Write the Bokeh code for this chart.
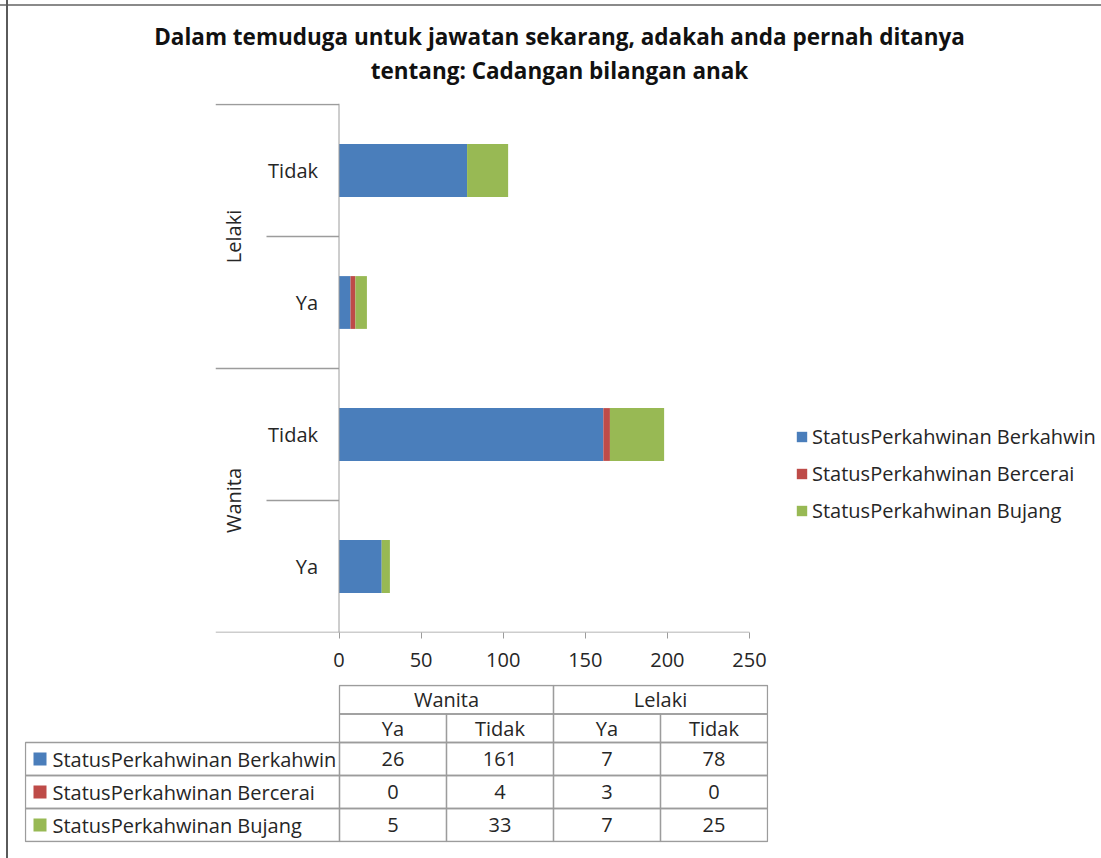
import math
from bokeh.plotting import figure
from bokeh.models import ColumnDataSource, Range1d, Span, Legend, LegendItem, Title, FixedTicker
from bokeh.embed import file_html
from bokeh.resources import INLINE
from bokeh.core.properties import value

# ---------------- data ----------------
title_lines = ["Dalam temuduga untuk jawatan sekarang, adakah anda pernah ditanya",
               "tentang: Cadangan bilangan anak"]
groups = ["Wanita", "Wanita", "Lelaki", "Lelaki"]          # bottom -> top (table order)
answers = ["Ya", "Tidak", "Ya", "Tidak"]
series_names = ["StatusPerkahwinan Berkahwin", "StatusPerkahwinan Bercerai", "StatusPerkahwinan Bujang"]
berkahwin = [26, 161, 7, 78]
bercerai = [0, 4, 3, 0]
bujang = [5, 33, 7, 25]
x_ticks = [0, 50, 100, 150, 200, 250]

# ---------------- style ----------------
colors = ["#4A7EBB", "#BE4B48", "#98B954"]
FONT = "Open Sans"
TXT = "#262626"
GRID = "#9c9c9c"
FS = "20px"
W = 1101
FRAME_CSS = {"background-image":
             "linear-gradient(to right, transparent 6px, #5a5a5a 6px, #5a5a5a 8px, transparent 8px)"}

n = len(answers)
ns = len(series_names)
keys = ["Berkahwin", "Bercerai", "Bujang"]
vals = [berkahwin, bercerai, bujang]


def bare(fig):
    fig.grid.visible = False
    fig.outline_line_color = None
    fig.background_fill_color = None
    fig.border_fill_color = None


# ---------------- title ----------------
tf = figure(width=W, height=103, x_axis_type=None, y_axis_type=None,
            toolbar_location=None, output_backend="svg",
            min_border_left=17, min_border_right=0, min_border_top=87, min_border_bottom=0)
bare(tf)
tf.scatter([0], [0], alpha=0)
for line, so in zip(reversed(title_lines), [3, 0]):
    tf.add_layout(Title(text=line, align="center", vertical_align="bottom", standoff=so,
                        text_font="Open Sans", text_font_style="bold", text_font_size="22.5px",
                        text_color="#111111"), "above")
tf.styles = {"background-image":
             "linear-gradient(to right, transparent 6px, #5a5a5a 6px, #5a5a5a 8px, transparent 8px),"
             "linear-gradient(to bottom, transparent 4px, #8a8a8a 4px, #8a8a8a 6px, transparent 6px)"}

# ---------------- chart ----------------
PXU = 410.5 / 250               # pixels per value unit
X_LEFT = (215 - 338.5) / PXU     # room for the category labels inside the frame
X_SUB = (266 - 338.5) / PXU      # start of inner separators
X_RIGHT = (1101 - 338.5) / PXU   # room for the legend inside the frame
Y_PAD = 1 / 132

src = ColumnDataSource(dict(y=[i + 0.5 for i in range(n)], ans=answers,
                            Berkahwin=berkahwin, Bercerai=bercerai, Bujang=bujang))

p = figure(width=W, height=577, x_range=Range1d(X_LEFT, X_RIGHT),
           y_range=Range1d(0, n + Y_PAD), y_axis_type=None,
           toolbar_location=None, output_backend="svg",
           min_border_left=215, min_border_right=0, min_border_top=0, min_border_bottom=48)
bare(p)

rs = p.hbar_stack(keys, y="y", height=0.4, color=colors, source=src, line_color=None)

ax = p.xaxis[0]
ax.ticker = FixedTicker(ticks=x_ticks)
ax.axis_line_color = None
ax.major_tick_line_color = GRID
ax.major_tick_in = 0
ax.major_tick_out = 6
ax.minor_tick_line_color = None
ax.major_label_text_font = FONT
ax.major_label_text_font_size = FS
ax.major_label_text_color = TXT
ax.major_label_standoff = 14

p.add_layout(Span(location=0, dimension="height", line_color=GRID, line_width=1))

sep_y, sep_x0, sep_x1 = [], [], []
for k in range(n + 1):
    outer = k == 0 or k == n or groups[k - 1] != groups[k]
    sep_y.append(k)
    sep_x0.append(X_LEFT if outer else X_SUB)
    sep_x1.append(x_ticks[-1] if k == 0 else 0)      # bottom line doubles as value axis
p.segment(x0=sep_x0, y0=sep_y, x1=sep_x1, y1=sep_y, line_color=GRID, line_width=1.3)

p.text(x=0, y="y", text="ans", source=src, x_offset=-21, text_align="right",
       text_baseline="middle", text_font=value(FONT), text_font_size=FS, text_color=TXT)

ug = []
for g in groups:
    if g not in ug:
        ug.append(g)
gy = []
for g in ug:
    idx = [i + 0.5 for i in range(n) if groups[i] == g]
    gy.append(sum(idx) / len(idx))
p.text(x=[0] * len(ug), y=gy, text=ug, angle=math.pi / 2, x_offset=-106,
       text_align="center", text_baseline="middle", text_font=value(FONT),
       text_font_size=FS, text_color=TXT)

legend = Legend(items=[LegendItem(label=nm, renderers=[r]) for nm, r in zip(series_names, rs)],
                location=(580, 108), orientation="vertical",
                label_text_font=FONT, label_text_font_size=FS, label_text_color=TXT,
                glyph_width=13, glyph_height=13, label_standoff=4, spacing=10,
                padding=0, margin=0, border_line_color=None, background_fill_alpha=0)
p.add_layout(legend)
p.styles = FRAME_CSS

# ---------------- data table ----------------
LABEL_COLS = 314 / 107
HEAD = 28.5 / 33
PADX = 1 / 107
PADY = 1 / 33
SWATCH_OFF = 14.5 / 107
frame_w = round((n + LABEL_COLS + 2 * PADX) * 107)
t = figure(width=W, height=178,
           x_range=Range1d(-LABEL_COLS - PADX, n + PADX),
           y_range=Range1d(-PADY, ns + 2 * HEAD + PADY),
           x_axis_type=None, y_axis_type=None, toolbar_location=None, output_backend="svg",
           min_border_left=24, min_border_right=W - 24 - frame_w, min_border_top=4, min_border_bottom=16)
bare(t)

cx, cy, ct = [], [], []
for i, s in enumerate(vals):
    for j, v in enumerate(s):
        cx.append(j + 0.5)
        cy.append(ns - i - 0.5)
        ct.append(str(v))
t.rect(x=cx, y=cy, width=1, height=1, fill_color=None, line_color=GRID, line_width=1.3)
t.text(x=cx, y=cy, text=ct, text_align="center", text_baseline="middle",
       text_font=value(FONT), text_font_size=FS, text_color=TXT)

ly = [ns - i - 0.5 for i in range(ns)]
t.rect(x=[-LABEL_COLS / 2] * ns, y=ly, width=LABEL_COLS, height=1, fill_color=None,
       line_color=GRID, line_width=1.3)
t.rect(x=[-LABEL_COLS + SWATCH_OFF] * ns, y=ly, width=13, height=13, width_units="screen",
       height_units="screen", fill_color=colors, line_color=None)
t.text(x=[-LABEL_COLS] * ns, y=ly, text=series_names, x_offset=27, text_align="left",
       text_baseline="middle", text_font=value(FONT), text_font_size=FS, text_color=TXT)

hx = [j + 0.5 for j in range(n)]
hy = [ns + HEAD / 2] * n
t.rect(x=hx, y=hy, width=1, height=HEAD, fill_color=None, line_color=GRID, line_width=1.3)
t.text(x=hx, y=hy, text=answers, text_align="center", text_baseline="middle",
       text_font=value(FONT), text_font_size=FS, text_color=TXT)

gx, gw = [], []
for g in ug:
    cols = [j for j in range(n) if groups[j] == g]
    gx.append(sum(c + 0.5 for c in cols) / len(cols))
    gw.append(len(cols))
gyy = [ns + 1.5 * HEAD] * len(ug)
t.rect(x=gx, y=gyy, width=gw, height=HEAD, fill_color=None, line_color=GRID, line_width=1.3)
t.text(x=gx, y=gyy, text=ug, text_align="center", text_baseline="middle",
       text_font=value(FONT), text_font_size=FS, text_color=TXT)
t.styles = FRAME_CSS

open("out.html", "w").write(file_html([tf, p, t], INLINE))
